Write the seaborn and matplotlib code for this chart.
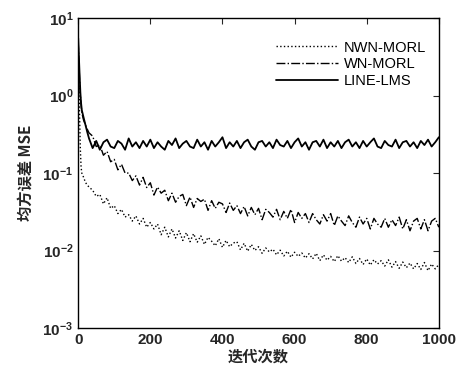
import numpy as np
import pandas as pd
import seaborn as sns
import matplotlib.pyplot as plt
from matplotlib.ticker import LogLocator, NullLocator

# iteration index (dense at start, then every 10)
iters = [0, 2, 4, 6, 8, 10, 15, 20, 25, 30] + list(range(40, 1001, 10))

nwn_morl = [5.2, 1.6, 0.5, 0.2, 0.12, 0.1, 0.088, 0.076, 0.07, 0.066,
            0.06, 0.05, 0.053, 0.04, 0.048, 0.035, 0.038, 0.03, 0.034, 0.027,
            0.029, 0.024, 0.028, 0.022, 0.026, 0.02, 0.023, 0.019, 0.022, 0.016,
            0.02, 0.015, 0.019, 0.0145, 0.018, 0.0135, 0.017, 0.013, 0.0165, 0.0128,
            0.0155, 0.012, 0.0148, 0.0132, 0.0115, 0.0142, 0.011, 0.0135, 0.0112, 0.0125,
            0.013, 0.0102, 0.0124, 0.0098, 0.012, 0.01, 0.0112, 0.0092, 0.0108, 0.0096,
            0.0104, 0.0088, 0.0101, 0.0085, 0.0098, 0.0082, 0.0095, 0.0084, 0.0093, 0.008,
            0.0091, 0.0078, 0.0092, 0.0074, 0.0088, 0.0075, 0.0084, 0.0072, 0.0086, 0.0073,
            0.0081, 0.007, 0.0083, 0.0068, 0.0079, 0.0066, 0.0078, 0.0065, 0.0076, 0.0067,
            0.0074, 0.0063, 0.0076, 0.0061, 0.0072, 0.0059, 0.0071, 0.006, 0.0069, 0.0058,
            0.0068, 0.0057, 0.007, 0.0055, 0.0067, 0.0058, 0.0066]

wn_morl = [5.0, 2.7, 1.5, 1.0, 0.75, 0.6, 0.48, 0.42, 0.37, 0.33,
           0.3, 0.22, 0.23, 0.17, 0.19, 0.14, 0.15, 0.11, 0.13, 0.1,
           0.1, 0.08, 0.092, 0.07, 0.088, 0.065, 0.075, 0.052, 0.066, 0.055,
           0.06, 0.044, 0.055, 0.042, 0.05, 0.053, 0.038, 0.049, 0.036, 0.047,
           0.043, 0.046, 0.033, 0.044, 0.035, 0.042, 0.04, 0.031, 0.041, 0.033,
           0.038, 0.03, 0.037, 0.028, 0.036, 0.029, 0.035, 0.025, 0.034, 0.031,
           0.027, 0.034, 0.025, 0.032, 0.026, 0.034, 0.023, 0.031, 0.026, 0.03,
           0.023, 0.03, 0.025, 0.022, 0.029, 0.024, 0.03, 0.021, 0.028, 0.024,
           0.021, 0.028, 0.023, 0.02, 0.027, 0.022, 0.026, 0.019, 0.026, 0.022,
           0.02, 0.026, 0.02, 0.025, 0.021, 0.027, 0.019, 0.025, 0.018, 0.024,
           0.026, 0.019, 0.025, 0.018, 0.024, 0.026, 0.02]

line_lms = [5.5, 3.1, 1.8, 1.1, 0.8, 0.65, 0.52, 0.42, 0.34, 0.28,
            0.21, 0.26, 0.2, 0.25, 0.27, 0.22, 0.21, 0.26, 0.24, 0.2,
            0.28, 0.22, 0.25, 0.21, 0.26, 0.22, 0.27, 0.21, 0.25, 0.22,
            0.2, 0.26, 0.23, 0.28, 0.21, 0.24, 0.26, 0.22, 0.21, 0.27,
            0.22, 0.25, 0.2, 0.26, 0.22, 0.25, 0.29, 0.21, 0.25, 0.22,
            0.26, 0.21, 0.25, 0.27, 0.22, 0.2, 0.25, 0.26, 0.22, 0.25,
            0.21, 0.27, 0.23, 0.22, 0.26, 0.21, 0.25, 0.28, 0.22, 0.25,
            0.2, 0.25, 0.26, 0.22, 0.27, 0.21, 0.25, 0.22, 0.26, 0.21,
            0.25, 0.27, 0.22, 0.25, 0.21, 0.26, 0.22, 0.25, 0.28, 0.22,
            0.21, 0.26, 0.23, 0.22, 0.27, 0.21, 0.25, 0.26, 0.22, 0.25,
            0.21, 0.26, 0.23, 0.27, 0.22, 0.25, 0.29]

series_names = ["NWN-MORL", "WN-MORL", "LINE-LMS"]

sns.set_style("white")
plt.rcParams['font.family'] = ['Liberation Sans', 'Noto Sans CJK SC', 'DejaVu Sans']

fig = plt.figure(figsize=(4.6, 3.7), dpi=100)
ax = fig.add_axes([0.170, 0.1135, 0.784, 0.8375])

styles = {"NWN-MORL": (":", 1.0), "WN-MORL": ("-.", 1.0), "LINE-LMS": ("-", 1.3)}
for name, vals in zip(series_names, [nwn_morl, wn_morl, line_lms]):
    df = pd.DataFrame({"iter": iters, "mse": vals})
    ls, lw = styles[name]
    sns.lineplot(data=df, x="iter", y="mse", ax=ax, color="black",
                 linestyle=ls, linewidth=lw, label=name)

ax.set_yscale("log")
ax.set_xlim(0, 1000)
ax.set_ylim(1e-3, 1e1)
ax.set_xticks([0, 200, 400, 600, 800, 1000])
ax.yaxis.set_major_locator(LogLocator(base=10, numticks=10))
ax.yaxis.set_minor_locator(NullLocator())
ax.tick_params(direction="in", top=True, right=True, length=4, width=0.8,
               labelsize=11)
for lab in ax.get_xticklabels():
    lab.set_fontweight("bold")
for lab in ax.get_yticklabels():
    lab.set_fontweight("bold")
for sp in ax.spines.values():
    sp.set_color("black")
    sp.set_linewidth(1.0)

ax.set_xlabel("迭代次数", fontsize=11, fontweight="bold",
              family=['Noto Sans CJK SC', 'DejaVu Sans'], labelpad=1)
ax.set_ylabel("均方误差 MSE", fontsize=11, fontweight="bold",
              family=['Noto Sans CJK SC', 'DejaVu Sans'], labelpad=6)

leg = ax.legend(loc="upper right", frameon=False, fontsize=10.5,
                handlelength=4.2, handletextpad=0.4, labelspacing=0.2,
                bbox_to_anchor=(1.0, 0.97))
for t in leg.get_texts():
    t.set_color("black")

fig.savefig("out.png", dpi=100)
